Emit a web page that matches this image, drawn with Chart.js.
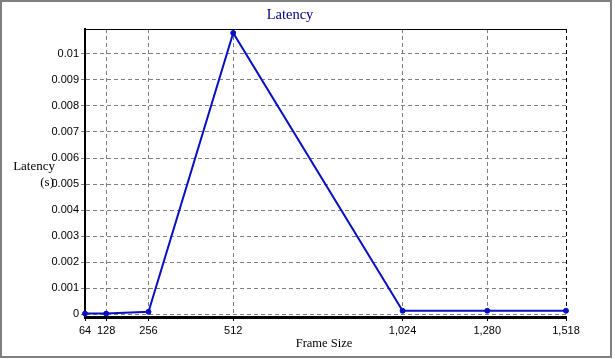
<!DOCTYPE html>
<html><head><meta charset="utf-8">
<script src="https://cdn.jsdelivr.net/npm/chart.js@4/dist/chart.umd.min.js"></script>
<style>html,body{margin:0;padding:0;background:#fff;overflow:hidden;}</style>
</head><body>
<canvas id="c" width="615" height="359" style="display:block;width:615px;height:359px"></canvas>
<script>
const frameSizes = [64, 128, 256, 512, 1024, 1280, 1518];
const latency = [0.00003, 0.00003, 0.0001, 0.0108, 0.00014, 0.00014, 0.00014];
const xTickValues = [64, 128, 256, 512, 1024, 1280, 1518];
const xTickLabels = ['64', '128', '256', '512', '1,024', '1,280', '1,518'];
const yTickValues = [0, 0.001, 0.002, 0.003, 0.004, 0.005, 0.006, 0.007, 0.008, 0.009, 0.01];
const yTickLabels = ['0', '0.001', '0.002', '0.003', '0.004', '0.005', '0.006', '0.007', '0.008', '0.009', '0.01'];
const chartTitle = 'Latency';
const yTitleLines = ['Latency', '(s)'];
const xTitle = 'Frame Size';

const lineColor = '#0810c0';
const tickFont = {family: '"Liberation Sans", Arial, sans-serif', size: 11};

const decor = {
  id: 'decor',
  afterDraw(chart) {
    const ctx = chart.ctx;
    const a = chart.chartArea;
    ctx.save();
    ctx.strokeStyle = '#000';
    ctx.lineWidth = 1;
    ctx.beginPath();
    ctx.moveTo(a.left, Math.round(a.top) + 0.5);
    ctx.lineTo(a.right, Math.round(a.top) + 0.5);
    ctx.stroke();
    ctx.strokeStyle = '#808080';
    ctx.lineWidth = 2;
    ctx.strokeRect(1, 1, 610, 356);
    ctx.fillStyle = '#000080';
    ctx.font = '14.5px "Liberation Serif", "Times New Roman", serif';
    ctx.textAlign = 'center';
    ctx.textBaseline = 'middle';
    ctx.fillText(chartTitle, 290, 15);
    ctx.fillStyle = '#000';
    ctx.font = '13px "Liberation Serif", "Times New Roman", serif';
    ctx.textAlign = 'right';
    ctx.fillText(yTitleLines[0], 55, 167);
    ctx.fillText(yTitleLines[1], 54, 183);
    ctx.textAlign = 'center';
    ctx.font = '12.5px "Liberation Serif", "Times New Roman", serif';
    ctx.fillText(xTitle, 324, 344);
    ctx.restore();
  }
};

new Chart(document.getElementById('c'), {
  type: 'line',
  data: {
    datasets: [{
      data: frameSizes.map((x, i) => ({x: x, y: latency[i]})),
      borderColor: lineColor,
      backgroundColor: lineColor,
      borderWidth: 2,
      pointStyle: 'circle',
      pointRadius: 2.5,
      pointBorderWidth: 1,
      pointHoverRadius: 2.5,
      tension: 0,
      clip: false
    }]
  },
  options: {
    responsive: false,
    devicePixelRatio: 1,
    animation: false,
    layout: {padding: {left: 0, top: 29, right: 49, bottom: 0}},
    plugins: {legend: {display: false}, tooltip: {enabled: false}, title: {display: false}},
    scales: {
      x: {
        type: 'linear',
        min: 64,
        max: 1518,
        afterBuildTicks: s => { s.ticks = xTickValues.map(v => ({value: v})); },
        afterFit: s => { s.height = 42; },
        ticks: {
          callback: (v, i) => xTickLabels[i],
          font: tickFont,
          color: '#000',
          padding: 3,
          maxRotation: 0,
          autoSkip: false
        },
        grid: {
          color: c => (c.tick && c.tick.value === 1518) ? '#000' : '#808080',
          lineWidth: 1,
          tickLength: 4,
          tickColor: '#000'
        },
        border: {color: '#000', width: 3, dash: [4, 3]}
      },
      y: {
        type: 'linear',
        min: -0.0001,
        max: 0.01095,
        afterBuildTicks: s => { s.ticks = yTickValues.map(v => ({value: v})); },
        afterFit: s => { s.width = 85; },
        ticks: {
          callback: (v, i) => yTickLabels[i],
          font: tickFont,
          color: '#000',
          padding: 2
        },
        grid: {
          color: '#808080',
          lineWidth: 1,
          tickLength: 4,
          tickColor: '#808080'
        },
        border: {color: '#000', width: 2, dash: [4, 3]}
      }
    }
  },
  plugins: [decor]
});
</script>
</body></html>
